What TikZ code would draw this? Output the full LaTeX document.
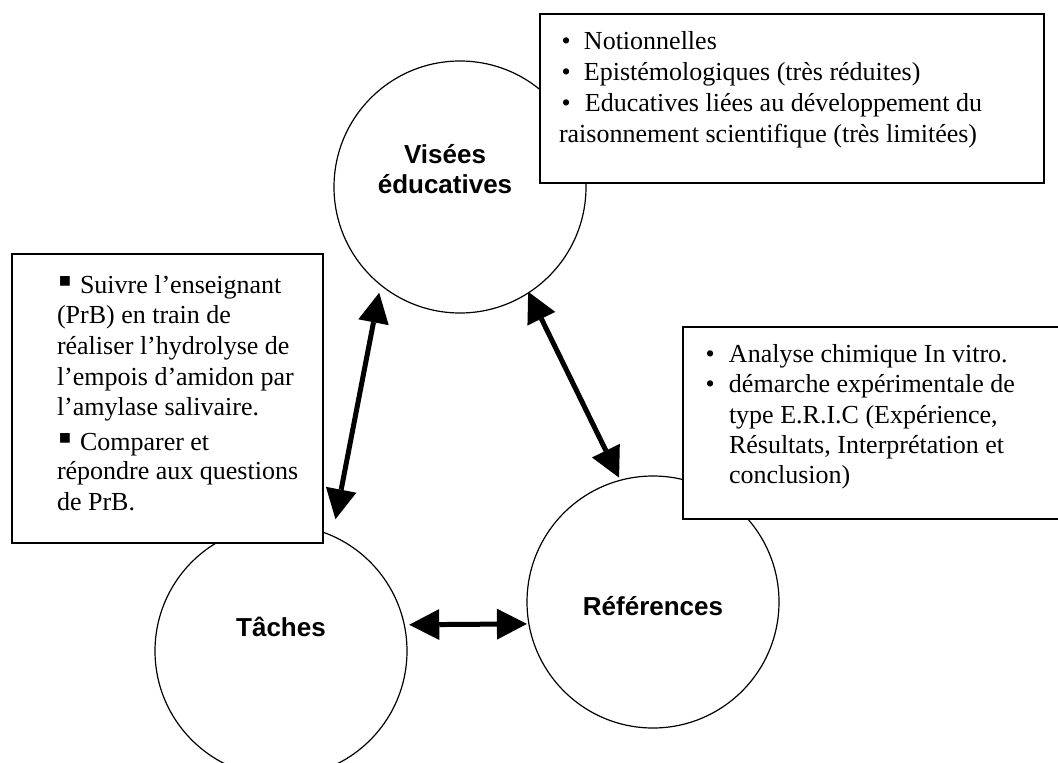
\documentclass[tikz,border=0pt]{standalone}
\usepackage{fontspec}
\setmainfont{Liberation Serif}
\newfontfamily\lblfont{Liberation Sans}
\usetikzlibrary{arrows.meta}
\newcommand{\sqbul}{\makebox[21pt][l]{\hspace*{-0.5pt}\scalebox{1.5}{▪}}}
\begin{document}
\begin{tikzpicture}[x=1pt,y=-1pt,
  circ/.style={draw, line width=1.2pt, circle, minimum size=252pt, inner sep=0pt, outer sep=0pt},
  infobox/.style={draw, line width=1.5pt, fill=white, rectangle, anchor=north west, inner sep=0pt, outer sep=0pt},
  txt/.style={anchor=base west, inner sep=0pt, outer sep=0pt, font=\fontsize{26}{30}\selectfont},
  lbl/.style={anchor=base, inner sep=0pt, outer sep=0pt, align=center, font=\lblfont\bfseries\fontsize{26}{30}\selectfont},
  tri/.tip={Triangle[length=30pt,width=31pt,line width=0pt]},
  link/.style={line width=5pt, tri-tri},
]
\useasboundingbox (0,0) rectangle (1058,763);
\fill[white] (0,0) rectangle (1058,763);

% circles
\node[circ] (vis) at (460,187) {};
\node[circ] (tac) at (281,651) {};
\node[circ] (ref) at (653,602) {};

% boxes
\node[infobox, minimum width=504pt, minimum height=169pt] (visbox) at (540,14) {};
\node[infobox, minimum width=311pt, minimum height=289pt] (tacbox) at (12,254) {};
\node[infobox, minimum width=390pt, minimum height=192pt] (refbox) at (683,327) {};

% circle labels
\node[lbl] (visl) at (445,193) {Visées\\éducatives};
\node[lbl] (tacl) at (281,636) {Tâches};
\node[lbl] (refl) at (653,615) {Références};

% top right box text
\node[txt] (v1) at (561.5,49) {\makebox[22.5pt][l]{•}Notionnelles};
\node[txt] (v2) at (561.5,80) {\makebox[22.5pt][l]{•}Epistémologiques (très réduites)};
\node[txt] (v3) at (561.5,111) {\makebox[23.5pt][l]{•}Educatives liées au développement du};
\node[txt] (v4) at (559,142) {raisonnement scientifique (très limitées)};

% left box text
\node[txt] (t1) at (59,293) {\sqbul Suivre l’enseignant};
\node[txt] (t2) at (57,323) {(PrB) en train de};
\node[txt] (t3) at (57,354) {réaliser l’hydrolyse de};
\node[txt] (t4) at (57,385) {l’empois d’amidon par};
\node[txt] (t5) at (57,415) {l’amylase salivaire.};
\node[txt] (t6) at (59,450) {\sqbul Comparer et};
\node[txt] (t7) at (57,479) {répondre aux questions};
\node[txt] (t8) at (57,510) {de PrB.};

% right box text
\node[txt] (r1) at (705.5,362) {\makebox[23.5pt][l]{•}Analyse chimique In vitro.};
\node[txt] (r2) at (705.5,392) {\makebox[23.5pt][l]{•}démarche expérimentale de};
\node[txt] (r3) at (729,423) {type E.R.I.C (Expérience,};
\node[txt] (r4) at (729,453) {Résultats, Interprétation et};
\node[txt] (r5) at (729,483) {conclusion)};

% arrows
\draw[link, shorten <=8pt, shorten >=17pt] (vis.-129.65) -- (tac.66.8);
\draw[link, shorten <=-1pt, shorten >=3pt] (vis.-57.1) -- (ref.105.95);
\draw[link, shorten <=5pt, shorten >=2pt] (tac.12.84) -- (ref.-170.4);
\end{tikzpicture}
\end{document}
